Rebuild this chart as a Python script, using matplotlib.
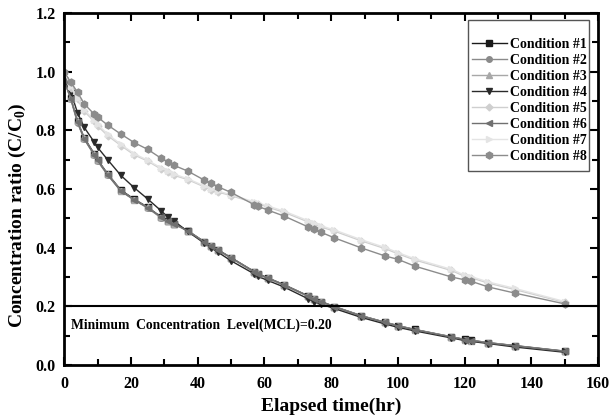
import numpy as np
import matplotlib
matplotlib.use("Agg")
import matplotlib.pyplot as plt
from matplotlib.ticker import MultipleLocator
from matplotlib.patches import Rectangle

# Data

time_hr = [0, 2, 4, 6, 9, 10, 13, 17, 21, 25, 29, 31, 33, 37, 42, 44, 46, 50,
           57, 58, 61, 66, 73, 75, 77, 81, 89, 96, 100, 105, 116, 120, 122,
           127, 135, 150]

cond1 = [0.97, 0.91, 0.83, 0.775, 0.72, 0.70, 0.652, 0.596, 0.565, 0.538, 0.505,
         0.492, 0.482, 0.458, 0.42, 0.407, 0.393, 0.366, 0.318, 0.311, 0.297,
         0.273, 0.236, 0.226, 0.216, 0.199, 0.168, 0.146, 0.134, 0.121, 0.096,
         0.087, 0.084, 0.076, 0.066, 0.047]
cond2 = [0.97, 0.905, 0.825, 0.77, 0.715, 0.695, 0.648, 0.592, 0.562, 0.535, 0.502,
         0.49, 0.48, 0.456, 0.418, 0.405, 0.391, 0.364, 0.316, 0.309, 0.295,
         0.271, 0.234, 0.224, 0.214, 0.197, 0.167, 0.145, 0.133, 0.12, 0.095,
         0.086, 0.083, 0.075, 0.065, 0.046]
cond3 = [0.97, 0.91, 0.83, 0.772, 0.718, 0.698, 0.65, 0.594, 0.563, 0.537, 0.503,
         0.491, 0.481, 0.457, 0.419, 0.406, 0.392, 0.365, 0.317, 0.31, 0.296,
         0.272, 0.235, 0.225, 0.215, 0.198, 0.168, 0.145, 0.134, 0.12, 0.096,
         0.086, 0.083, 0.076, 0.065, 0.046]
cond4 = [0.97, 0.93, 0.86, 0.81, 0.76, 0.742, 0.70, 0.646, 0.604, 0.566, 0.526,
         0.505, 0.49, 0.455, 0.415, 0.40, 0.385, 0.355, 0.31, 0.302, 0.288,
         0.265, 0.226, 0.215, 0.207, 0.192, 0.162, 0.14, 0.128, 0.116, 0.092,
         0.083, 0.08, 0.073, 0.061, 0.043]
cond5 = [1.0, 0.945, 0.905, 0.865, 0.83, 0.815, 0.782, 0.748, 0.716, 0.695, 0.668,
         0.657, 0.646, 0.632, 0.607, 0.597, 0.59, 0.577, 0.553, 0.55, 0.538,
         0.52, 0.488, 0.48, 0.47, 0.456, 0.423, 0.397, 0.379, 0.358, 0.322,
         0.302, 0.297, 0.279, 0.257, 0.213]
cond6 = [0.97, 0.908, 0.828, 0.771, 0.717, 0.697, 0.649, 0.593, 0.563, 0.536, 0.504,
         0.491, 0.481, 0.457, 0.418, 0.406, 0.392, 0.365, 0.317, 0.31, 0.296,
         0.272, 0.235, 0.225, 0.215, 0.198, 0.167, 0.145, 0.133, 0.12, 0.095,
         0.086, 0.083, 0.075, 0.065, 0.046]
cond7 = [1.0, 0.95, 0.91, 0.87, 0.835, 0.82, 0.787, 0.752, 0.72, 0.698, 0.672,
         0.661, 0.65, 0.635, 0.61, 0.6, 0.593, 0.58, 0.556, 0.553, 0.542,
         0.524, 0.492, 0.484, 0.474, 0.46, 0.427, 0.401, 0.383, 0.362, 0.326,
         0.306, 0.301, 0.283, 0.261, 0.216]
cond8 = [1.0, 0.963, 0.93, 0.89, 0.855, 0.845, 0.818, 0.787, 0.758, 0.735, 0.705,
         0.693, 0.68, 0.661, 0.63, 0.62, 0.608, 0.588, 0.546, 0.541, 0.528,
         0.507, 0.471, 0.462, 0.452, 0.433, 0.399, 0.372, 0.36, 0.337, 0.30,
         0.29, 0.285, 0.266, 0.245, 0.208]

labels = ["Condition #1", "Condition #2", "Condition #3", "Condition #4",
          "Condition #5", "Condition #6", "Condition #7", "Condition #8"]
mcl = 0.20

# Style

plt.rcParams["font.family"] = "Liberation Serif"
plt.rcParams["font.weight"] = "bold"
plt.rcParams["mathtext.fontset"] = "custom"
plt.rcParams["mathtext.rm"] = "Liberation Serif:bold"
plt.rcParams["mathtext.bf"] = "Liberation Serif:bold"

series = [cond1, cond2, cond3, cond4, cond5, cond6, cond7, cond8]
colors = ["#1a1a1a", "#8a8a8a", "#a8a8a8", "#2a2a2a",
          "#cfcfcf", "#707070", "#e4e4e4", "#8c8c8c"]
markers = ["s", "o", "^", "v", "D", "<", ">", "h"]
msizes = [4, 4, 4.5, 5, 3.5, 4.5, 4.5, 5]

fig = plt.figure(figsize=(6.11, 4.18), dpi=100)
ax = fig.add_axes([0.105, 0.127, 0.874, 0.842])

for vals, c, m, ms, lab in zip(series, colors, markers, msizes, labels):
    ax.plot(time_hr, vals, color=c, marker=m, markersize=ms, lw=1.0,
            markeredgecolor=c, label=lab)

ax.axhline(mcl, color="black", lw=1.5)
ax.text(2, 0.135, "Minimum  Concentration  Level(MCL)=0.20", fontsize=9.8,
        fontweight="bold", va="center", ha="left")

ax.set_xlim(0, 160)
ax.set_ylim(0, 1.2)
ax.xaxis.set_major_locator(MultipleLocator(20))
ax.xaxis.set_minor_locator(MultipleLocator(10))
ax.yaxis.set_major_locator(MultipleLocator(0.2))
ax.yaxis.set_minor_locator(MultipleLocator(0.1))
ax.yaxis.set_major_formatter(matplotlib.ticker.FormatStrFormatter("%.1f"))
ax.tick_params(which="both", direction="in", top=True, right=True,
               width=1.5, labelsize=11.5)
ax.tick_params(which="major", length=6, pad=6)
ax.tick_params(axis="x", which="major", pad=8)
ax.tick_params(which="minor", length=4)
for s in ax.spines.values():
    s.set_linewidth(2)

ax.set_xlabel("Elapsed time(hr)", fontsize=14, fontweight="bold", labelpad=4)
ax.set_ylabel(r"Concentration ratio (C/C$_{\mathbf{0}}$)", fontsize=14,
              fontweight="bold")
ax.yaxis.set_label_coords(-0.068, 0.426)

# legend entries without frame, frame drawn as a box
leg = ax.legend(loc="upper right", bbox_to_anchor=(0.978, 0.93), fontsize=10,
                frameon=False, handlelength=2.5, labelspacing=0.22,
                borderpad=0, handletextpad=0.2, borderaxespad=0)
for t in leg.get_texts():
    t.set_fontweight("bold")
ax.add_patch(Rectangle((0.7566, 0.551), 0.2264, 0.429, transform=ax.transAxes,
                       fill=False, edgecolor="#555555", lw=1.0, zorder=4))

fig.savefig("out.png", dpi=100)
